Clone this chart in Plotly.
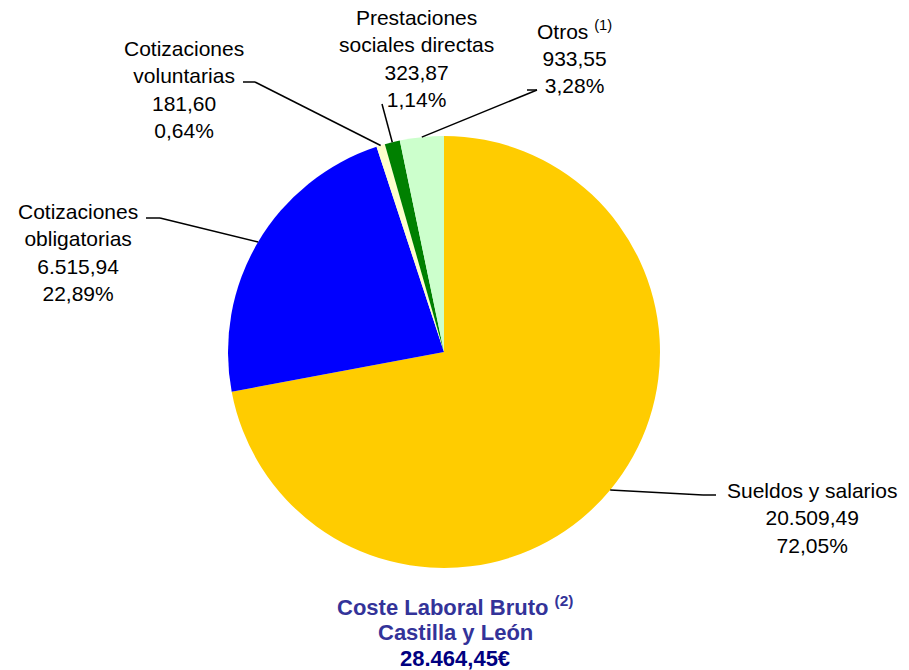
import math
import plotly.graph_objects as go

# ---- data ----
labels = ["Sueldos y salarios", "Cotizaciones obligatorias", "Cotizaciones voluntarias",
          "Prestaciones sociales directas", "Otros"]
values = [20509.49, 6515.94, 181.60, 323.87, 933.55]
value_text = ["20.509,49", "6.515,94", "181,60", "323,87", "933,55"]
pct_text = ["72,05%", "22,89%", "0,64%", "1,14%", "3,28%"]
label_text = ["Sueldos y salarios", "Cotizaciones<br>obligatorias", "Cotizaciones<br>voluntarias",
              "Prestaciones<br>sociales directas", "Otros <sup>(1)</sup>"]
colors = ["#FFCC00", "#0000FF", "#FFFFCC", "#008000", "#CCFFCC"]
title_lines = ["Coste Laboral Bruto <sup>(2)</sup>", "Castilla y León", "28.464,45€"]
title_colors = ["#333399", "#333399", "#000080"]

W, H = 909, 670
cx, cy, R = 444, 352, 216  # pie geometry in pixels


def px(x):
    return x / W


def py(y):
    return 1 - y / H


fig = go.Figure(go.Pie(
    labels=labels, values=values, marker=dict(colors=colors, line=dict(width=0)),
    sort=False, direction="clockwise", rotation=0, textinfo="none",
    hoverinfo="label+value+percent", showlegend=False,
    domain=dict(x=[px(cx - R), px(cx + R)], y=[py(cy + R), py(cy - R)]),
))

# label block centres (pixels) and leader line elbow points near each label
label_pos = [(812, 518), (78, 253), (184, 90), (416, 59), (574, 57)]
elbows = [[(716, 495), (703, 495)], [(146, 218), (160, 218)], [(243, 82), (255, 82)],
          [(382, 104)], [(527, 90), (537, 90)]]

font = dict(family="Liberation Sans, Arial, sans-serif", size=21, color="#000000")
annotations = []
shapes = []
total = sum(values)
cum = 0.0
for i, v in enumerate(values):
    mid = (cum + v / 2) / total
    cum += v
    ang = 2 * math.pi * mid
    ex = cx + R * math.sin(ang)
    ey = cy - R * math.cos(ang)
    pts = elbows[i] + [(ex, ey)]
    for (x0, y0), (x1, y1) in zip(pts[:-1], pts[1:]):
        shapes.append(dict(type="line", xref="paper", yref="paper",
                           x0=px(x0), y0=py(y0), x1=px(x1), y1=py(y1),
                           line=dict(color="#000000", width=1.5)))
    lx, ly = label_pos[i]
    annotations.append(dict(
        x=px(lx), y=py(ly), xref="paper", yref="paper", xanchor="center", yanchor="middle",
        showarrow=False, align="center", font=font,
        text=f"{label_text[i]}<br>{value_text[i]}<br>{pct_text[i]}"))

title_y = [606, 632, 658]
for t, c, ty in zip(title_lines, title_colors, title_y):
    annotations.append(dict(
        x=px(455), y=py(ty), xref="paper", yref="paper", xanchor="center", yanchor="middle",
        showarrow=False, align="center",
        font=dict(family="Liberation Sans, Arial, sans-serif", size=22, color=c),
        text=f"<b>{t}</b>"))

fig.update_layout(
    width=W, height=H, margin=dict(l=0, r=0, t=0, b=0),
    paper_bgcolor="#FFFFFF", plot_bgcolor="#FFFFFF",
    annotations=annotations, shapes=shapes,
)

fig.write_html("out.html", config={"displayModeBar": False},
               post_script="document.body.style.margin='0px';")
